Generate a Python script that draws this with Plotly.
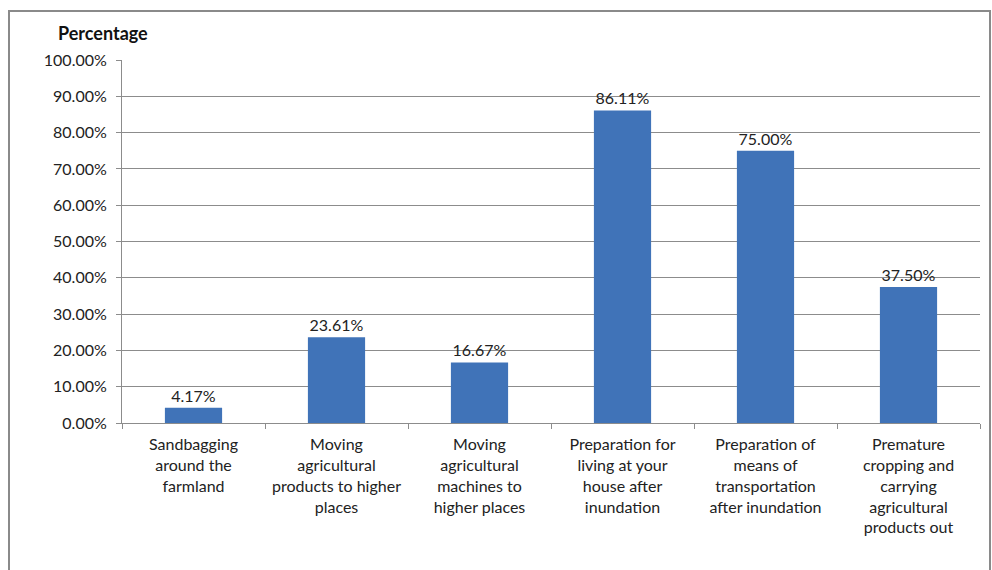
import plotly.graph_objects as go

# Share of respondents adopting each flood-preparation measure
categories = [
    "Sandbagging<br>around the<br>farmland",
    "Moving<br>agricultural<br>products to higher<br>places",
    "Moving<br>agricultural<br>machines to<br>higher places",
    "Preparation for<br>living at your<br>house after<br>inundation",
    "Preparation of<br>means of<br>transportation<br>after inundation",
    "Premature<br>cropping and<br>carrying<br>agricultural<br>products out",
]
percentages = [4.17, 23.61, 16.67, 86.11, 75.00, 37.50]
y_ticks = [0, 10, 20, 30, 40, 50, 60, 70, 80, 90, 100]

W, H = 992, 570
L, R, T, B = 122, 12, 60, 147
pw, ph = W - L - R, H - T - B

def px_x(p):
    return (p - L) / pw

def px_y(p):
    return (H - B - p) / ph

FONT = "Lato"
bar_color = "#4073B8"
grid_color = "#8C8C8C"

fig = go.Figure(
    go.Bar(
        x=categories,
        y=percentages,
        marker=dict(color=bar_color, line=dict(width=0)),
        width=0.4,
        text=[f"{v:.2f}%" for v in percentages],
        textposition="outside",
        textfont=dict(family=FONT, size=16, color="#222222"),
        cliponaxis=False,
    )
)

fig.update_layout(
    width=W,
    height=H,
    margin=dict(l=L, r=R, t=T, b=B),
    paper_bgcolor="white",
    plot_bgcolor="white",
    showlegend=False,
    font=dict(family=FONT, size=15, color="#222222"),
    xaxis=dict(
        tickson="boundaries",
        ticks="outside",
        ticklen=5,
        tickcolor=grid_color,
        showline=True,
        linecolor=grid_color,
        linewidth=1,
        showgrid=False,
        ticklabelstandoff=7,
        tickfont=dict(family=FONT, size=16, color="#222222"),
    ),
    yaxis=dict(
        range=[0, 100],
        tickvals=y_ticks,
        ticktext=[f"{v:.2f}%" for v in y_ticks],
        ticks="outside",
        ticklen=5,
        tickcolor=grid_color,
        showline=True,
        linecolor=grid_color,
        linewidth=1,
        showgrid=True,
        gridcolor=grid_color,
        gridwidth=1,
        zeroline=False,
        ticklabelstandoff=6,
        tickfont=dict(family=FONT, size=16, color="#222222"),
    ),
    annotations=[
        dict(
            text="<b>Percentage</b>",
            xref="paper",
            yref="paper",
            x=px_x(56),
            y=px_y(33),
            xanchor="left",
            yanchor="middle",
            showarrow=False,
            font=dict(family=FONT, size=18, color="#111111"),
        )
    ],
    shapes=[
        dict(
            type="rect",
            xref="paper",
            yref="paper",
            x0=px_x(9),
            x1=px_x(990),
            y0=px_y(580),
            y1=px_y(11),
            line=dict(color="#8A8A8A", width=2),
            fillcolor="rgba(0,0,0,0)",
            layer="below",
        )
    ],
)

fig.write_html("out.html")
